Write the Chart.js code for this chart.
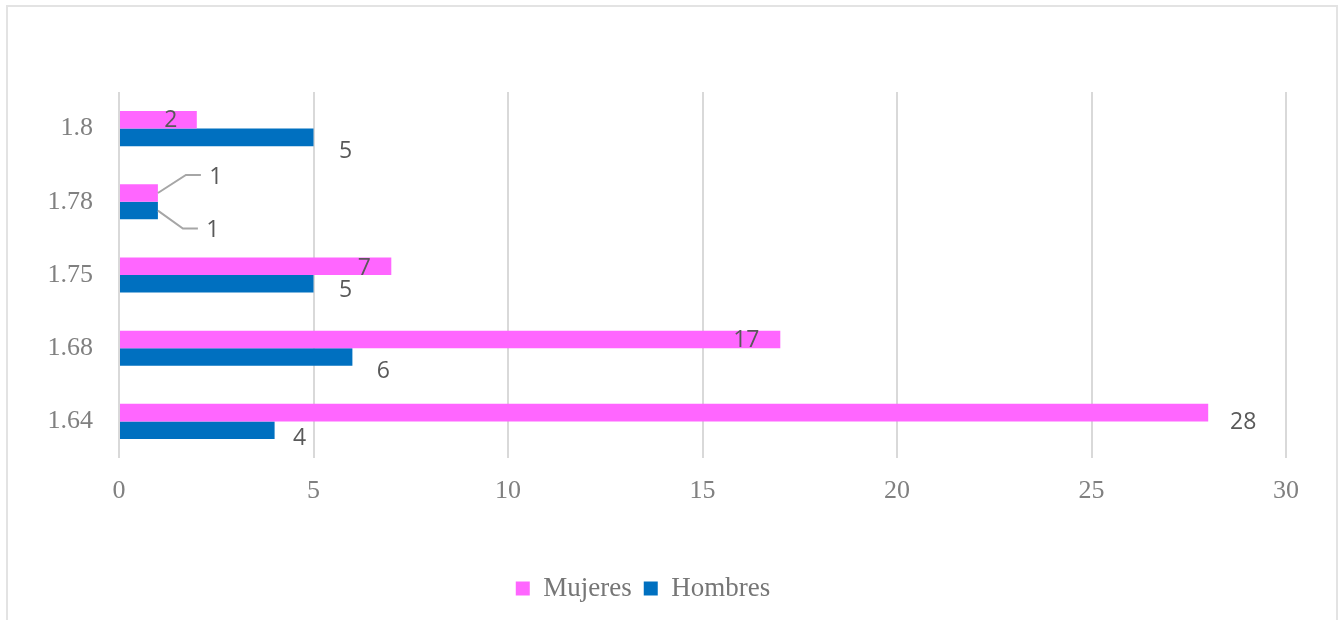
<!DOCTYPE html>
<html lang="es">
<head>
    <meta charset="UTF-8">
    <title>Estatura por sexo</title>
    <script src="https://cdn.jsdelivr.net/npm/chart.js"></script>
    <style>
        body { margin: 0; background: #fff; }
        #wrap { position: relative; width: 1338px; height: 620px; }
        #frame {
            position: absolute; left: 6px; top: 5px; width: 1328px; height: 640px;
            border: 2px solid #e3e3e3; pointer-events: none;
        }
    </style>
</head>
<body>
    <div id="wrap">
        <canvas id="myChart" width="1338" height="620"></canvas>
        <div id="frame"></div>
    </div>
    <script>
        const estaturas = ['1.8', '1.78', '1.75', '1.68', '1.64'];
        const mujeres = [2, 1, 7, 17, 28];
        const hombres = [5, 1, 5, 6, 4];
        const xTicks = [0, 5, 10, 15, 20, 25, 30];

        // where each value label sits, measured from the end of its bar
        const labelShift = [
            [[-26, 1], [58, -16], [-27, 2], [-34, 1], [35, 10]],
            [[32, 14], [55, 20], [32, 7], [31, 14], [25, 8]]
        ];
        // labels pulled away from small bars get a leader line
        const leaders = [
            { 1: [[0, 0], [28, -18], [43, -18]] },
            { 1: [[0, 0], [25, 18], [40, 18]] }
        ];

        const valueLabels = {
            id: 'valueLabels',
            afterDatasetsDraw(chart) {
                const ctx = chart.ctx;
                ctx.save();
                chart.data.datasets.forEach((ds, i) => {
                    chart.getDatasetMeta(i).data.forEach((bar, j) => {
                        const lead = leaders[i][j];
                        if (lead) {
                            ctx.strokeStyle = '#a6a6a6';
                            ctx.lineWidth = 2;
                            ctx.beginPath();
                            lead.forEach(([dx, dy], k) => {
                                if (k === 0) ctx.moveTo(bar.x + dx, bar.y + dy);
                                else ctx.lineTo(bar.x + dx, bar.y + dy);
                            });
                            ctx.stroke();
                        }
                        const [dx, dy] = labelShift[i][j];
                        ctx.fillStyle = '#595959';
                        ctx.font = '23px "Open Sans", sans-serif';
                        ctx.textAlign = 'center';
                        ctx.textBaseline = 'middle';
                        ctx.fillText(String(ds.data[j]), bar.x + dx, bar.y + dy);
                    });
                });
                ctx.restore();
            }
        };

        const ctx = document.getElementById('myChart').getContext('2d');
        const myChart = new Chart(ctx, {
            type: 'bar',
            data: {
                labels: estaturas,
                datasets: [{
                    label: 'Mujeres',
                    data: mujeres,
                    backgroundColor: '#ff66ff',
                    categoryPercentage: 0.48,
                    barPercentage: 1.0
                }, {
                    label: 'Hombres',
                    data: hombres,
                    backgroundColor: '#0070c0',
                    categoryPercentage: 0.48,
                    barPercentage: 1.0
                }]
            },
            options: {
                indexAxis: 'y',
                responsive: false,
                animation: false,
                layout: { padding: { top: 92, right: 52, left: 0, bottom: 8 } },
                scales: {
                    x: {
                        min: 0,
                        max: 30,
                        afterBuildTicks: scale => { scale.ticks = xTicks.map(v => ({ value: v })); },
                        afterFit: scale => { scale.height = 105; },
                        grid: { color: '#d9d9d9', lineWidth: 2, drawTicks: false },
                        border: { display: false },
                        ticks: {
                            padding: 18,
                            color: '#808080',
                            font: { family: '"Liberation Serif", serif', size: 26 }
                        }
                    },
                    y: {
                        afterFit: scale => { scale.width = 119; },
                        grid: { display: false, drawTicks: false },
                        border: { display: false },
                        ticks: {
                            padding: 26,
                            color: '#808080',
                            font: { family: '"Liberation Serif", serif', size: 26 }
                        }
                    }
                },
                plugins: {
                    legend: {
                        position: 'bottom',
                        labels: {
                            boxWidth: 14,
                            boxHeight: 14,
                            padding: 12,
                            color: '#767676',
                            font: { family: '"Liberation Serif", serif', size: 27 }
                        }
                    },
                    tooltip: { enabled: false }
                }
            },
            plugins: [valueLabels]
        });
    </script>
</body>
</html>
